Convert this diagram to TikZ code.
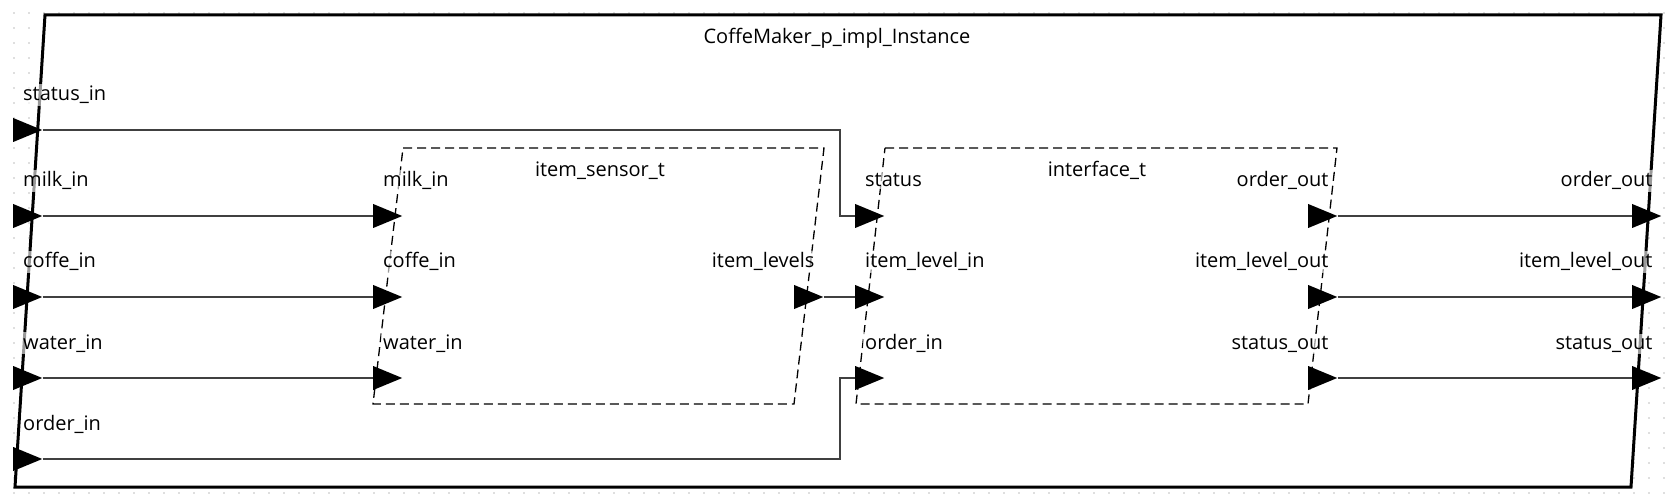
\documentclass[tikz,border=0pt]{standalone}
\usepackage{fontspec}
\setmainfont{Open Sans}
\usepackage{tikz}
\usetikzlibrary{shapes.geometric}
\tikzstyle{port}=[fill=black, isosceles triangle, isosceles triangle stretches, inner sep=0pt, minimum width=24pt, minimum height=29pt, anchor=west]
\tikzstyle{plabel}=[fill=white, fill opacity=0.6, text opacity=1, inner sep=2pt, font=\fontsize{20}{23}\selectfont]
\tikzstyle{inlabel}=[plabel, anchor=base west, xshift=8pt, yshift=29pt]
\tikzstyle{outlabel}=[plabel, anchor=base east, xshift=-7pt, yshift=29pt]
\tikzstyle{title}=[plabel, anchor=base]
\tikzstyle{wire}=[draw=black!75, line width=2pt]
\tikzstyle{block}=[draw=black, line width=1.3pt, dash pattern=on 9pt off 5pt]
\tikzstyle{frame}=[draw=black, fill=white, line width=3pt]

\begin{document}
\begin{tikzpicture}[x=1pt, y=-1pt]
        \useasboundingbox (0,0) rectangle (1674,497);
        % dotted grid
        \foreach \i in {0,...,111}
            \foreach \j in {0,...,32}
                \fill[black!25] (14+15*\i, 13+15*\j) circle (0.8pt);
        % outer instance and the two blocks
        \draw[frame] (45,15) -- (1661,15) -- (1631,487) -- (15,487) -- cycle;
        \draw[block] (403,148) -- (824,148) -- (794,404) -- (373,404) -- cycle;
        \draw[block] (885,148) -- (1337,148) -- (1308,404) -- (856,404) -- cycle;
        \node[title] (tinst) at (837,44) {CoffeMaker\_p\_impl\_Instance};
        \node[title] (tsensor) at (600,177) {item\_sensor\_t};
        \node[title] (tiface) at (1097,177) {interface\_t};
        % ports
        \node[port] (sin) at (13,130) {};
        \node[port] (min) at (13,216) {};
        \node[port] (cin) at (13,297) {};
        \node[port] (win) at (13,378) {};
        \node[port] (oin) at (13,459) {};
        \node[port] (smilk) at (373,216) {};
        \node[port] (scoffe) at (373,297) {};
        \node[port] (swater) at (373,378) {};
        \node[port] (slevels) at (794,297) {};
        \node[port] (istatus) at (855,216) {};
        \node[port] (ilevelin) at (855,297) {};
        \node[port] (iorderin) at (855,378) {};
        \node[port] (iorderout) at (1308,216) {};
        \node[port] (ilevelout) at (1308,297) {};
        \node[port] (istatusout) at (1308,378) {};
        \node[port] (oorder) at (1632,216) {};
        \node[port] (olevel) at (1632,297) {};
        \node[port] (ostatus) at (1632,378) {};
        % wires
        \coordinate (jog) at (840,0);
        \draw[wire] (sin.east) -| (jog |- istatus.west) -- (istatus.west);
        \draw[wire] (oin.east) -| (jog |- iorderin.west) -- (iorderin.west);
        \draw[wire] (min.east) -- (smilk.west);
        \draw[wire] (cin.east) -- (scoffe.west);
        \draw[wire] (win.east) -- (swater.west);
        \draw[wire] (slevels.east) -- (ilevelin.west);
        \draw[wire] (iorderout.east) -- (oorder.west);
        \draw[wire] (ilevelout.east) -- (olevel.west);
        \draw[wire] (istatusout.east) -- (ostatus.west);
        % port names
        \node[inlabel] (lsin) at (sin.west) {status\_in};
        \node[inlabel] (lmin) at (min.west) {milk\_in};
        \node[inlabel] (lcin) at (cin.west) {coffe\_in};
        \node[inlabel] (lwin) at (win.west) {water\_in};
        \node[inlabel] (loin) at (oin.west) {order\_in};
        \node[inlabel] (lsmilk) at (smilk.west) {milk\_in};
        \node[inlabel] (lscoffe) at (scoffe.west) {coffe\_in};
        \node[inlabel] (lswater) at (swater.west) {water\_in};
        \node[outlabel] (lslevels) at (slevels.east) {item\_levels};
        \node[inlabel] (listatus) at (istatus.west) {status};
        \node[inlabel] (lilevelin) at (ilevelin.west) {item\_level\_in};
        \node[inlabel] (liorderin) at (iorderin.west) {order\_in};
        \node[outlabel] (liorderout) at (iorderout.east) {order\_out};
        \node[outlabel] (lilevelout) at (ilevelout.east) {item\_level\_out};
        \node[outlabel] (listatusout) at (istatusout.east) {status\_out};
        \node[outlabel] (loorder) at (oorder.east) {order\_out};
        \node[outlabel] (lolevel) at (olevel.east) {item\_level\_out};
        \node[outlabel] (lostatus) at (ostatus.east) {status\_out};
\end{tikzpicture}
\end{document}
